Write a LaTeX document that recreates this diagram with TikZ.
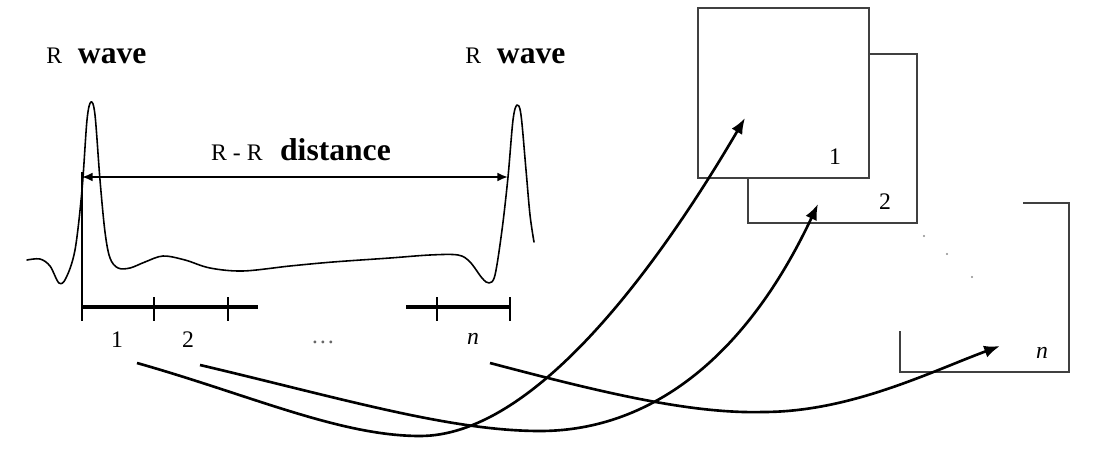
\documentclass[tikz,border=0pt]{standalone}
\usepackage{fontspec}
\setmainfont{Liberation Serif}
\usetikzlibrary{positioning,arrows.meta}
\newcommand{\bigword}{\fontsize{18}{20}\selectfont\bfseries}
\newcommand{\rwlabel}{R\hspace{9pt}{\bigword wave}}
\tikzset{
  lbl/.style={font=\fontsize{13.5}{15}\selectfont,inner sep=0pt},
  ecg/.style={line width=0.9pt,line join=round,line cap=round},
  ruler/.style={line width=2.6pt},
  tick/.style={line width=0.7pt},
  frame/.style={draw=black!75,line width=0.9pt,fill=white},
  link/.style={line width=1.5pt,-{Latex[length=9pt,width=7pt]}},
}

\begin{document}
\begin{tikzpicture}[x=0.02cm,y=-0.02cm]
  \useasboundingbox (0,0) rectangle (1098,449);
  % signal
  \draw[ecg] plot[smooth,tension=0.55] coordinates {
    (27,260) (40,259) (50,266) (59,283) (66,278) (75,250) (82,190) (87,120)
    (91,102) (95,115) (100,180) (105,232) (110,258) (118,268) (130,268)
    (145,262) (163,256) (185,260) (210,268) (243,271) (290,266) (333,262)
    (390,258) (430,255) (458,255) (470,262) (482,278) (489,283) (495,275)
    (502,230) (508,177) (513,120) (517,105) (521,115) (526,170) (530,215) (534,242)};
  \node[lbl,anchor=base west] (rw1) at (46,64) {\rwlabel};
  \node[lbl,anchor=base west] (rw2) at (465,64) {\rwlabel};
  \coordinate (ra) at (82,177);
  \coordinate (rb) at (508,177);
  \draw[line width=1.1pt,{Latex[length=6pt,width=5pt]}-{Latex[length=6pt,width=5pt]}] (ra) -- (rb);
  \node[lbl,anchor=base] (rr) at (301,161) {R - R\hspace{10pt}{\bigword distance}};
  % segments
  \draw[tick] (82,172) -- (82,321);
  \draw[ruler] (82,307) -- (258,307);
  \draw[ruler] (406,307) -- (510,307);
  \foreach \x in {154,228,437} \draw[tick] (\x,297) -- (\x,321);
  \draw[tick] (510,297) -- (510,321);
  \node[lbl] (s1) at (117,340) {1};
  \node[lbl] (s2) at (188,340) {2};
  \node[lbl,text=black!60] (sd) at (323,342) {\dots};
  \node[lbl] (sn) at (473,339) {\itshape n};
  % images
  \draw[frame] (748,54) rectangle (917,223);
  \draw[frame] (698,8) rectangle (869,178);
  \draw[frame,fill=none] (1023,203) -| (1069,372) -| (900,331);
  \node[lbl] (f1) at (835,157) {1};
  \node[lbl] (f2) at (885,202) {2};
  \node[lbl] (fn) at (1042,353) {\itshape n};
  \foreach \p in {(924,236),(947,254),(972,277)} \fill[black!45] \p circle (1.2);
  % mapping
  \coordinate (c1) at (137,363);
  \coordinate (c2) at (200,365);
  \coordinate (cn) at (490,363);
  \coordinate (t1) at (745,118);
  \coordinate (t2) at (818,204);
  \coordinate (tn) at (1000,346);
  \draw[link] (c1) .. controls (250,395) and (340,436) .. (420,436)
    .. controls (530,436) and (650,280) .. (t1);
  \draw[link] (c2) .. controls (340,398) and (450,431) .. (540,431)
    .. controls (640,431) and (740,370) .. (t2);
  \draw[link] (cn) .. controls (600,392) and (690,414) .. (763,412)
    .. controls (850,412) and (930,372) .. (tn);
\end{tikzpicture}
\end{document}
